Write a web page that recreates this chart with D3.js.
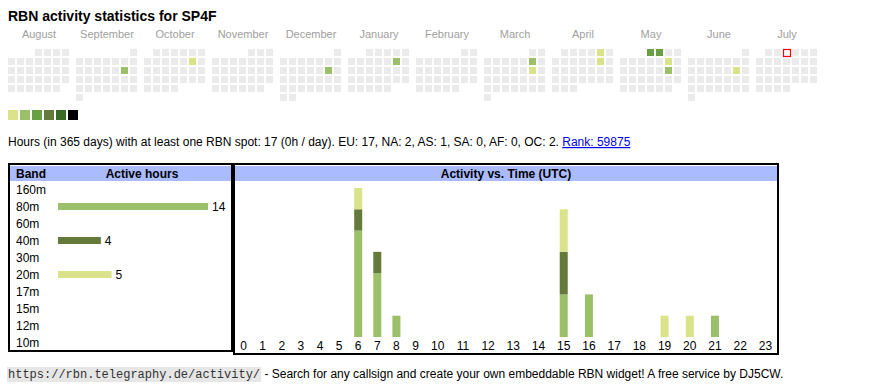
<!DOCTYPE html>
<html><head><meta charset="utf-8">
<script src="https://cdn.jsdelivr.net/npm/d3@7"></script>
<style>
html,body{margin:0;padding:0;background:#fff;}
svg text{font-family:"Liberation Sans",Arial,sans-serif;white-space:pre;}
</style></head>
<body><svg id="c" width="870" height="390"></svg>
<script>
// ---------- data ----------
const title = "RBN activity statistics for SP4F";
const monthNames = ["August","September","October","November","December","January","February","March","April","May","June","July"];
const firstMonth = "2024-08-01";
const today = "2025-07-03";
const activeDays = ["2024-09-14","2024-10-12","2024-12-14","2025-01-11","2025-03-08","2025-03-15","2025-04-05","2025-04-12","2025-05-01","2025-05-02","2025-05-10","2025-05-17","2025-06-14"];
const activeLevels = [2,1,2,2,2,1,1,1,3,3,1,2,1];
const levelColors = ["#dae28a","#9cc06a","#68a043","#647a3b","#3a6b26","#000000"];
const summaryText = "Hours (in 365 days) with at least one RBN spot: 17 (0h / day). EU: 17, NA: 2, AS: 1, SA: 0, AF: 0, OC: 2. ";
const rankText = "Rank: 59875";
const bands = ["160m","80m","60m","40m","30m","20m","17m","15m","12m","10m"];
const bandHours = [0,14,0,4,0,5,0,0,0,0];
const bandColors = ["#c0c0c0","#9cc06a","#c0c0c0","#647a3b","#c0c0c0","#dae28a","#c0c0c0","#c0c0c0","#c0c0c0","#c0c0c0"];
const hourLabels = ["0","1","2","3","4","5","6","7","8","9","10","11","12","13","14","15","16","17","18","19","20","21","22","23"];
const hours80m = [0,0,0,0,0,0,5,3,1,0,0,0,0,0,0,2,2,0,0,0,0,1,0,0];
const hours40m = [0,0,0,0,0,0,1,1,0,0,0,0,0,0,0,2,0,0,0,0,0,0,0,0];
const hours20m = [0,0,0,0,0,0,1,0,0,0,0,0,0,0,0,2,0,0,0,1,1,0,0,0];
const footerUrl = "https://rbn.telegraphy.de/activity/";
const footerText = " - Search for any callsign and create your own embeddable RBN widget! A free service by DJ5CW.";

// ---------- drawing ----------
const svg = d3.select("#c");
const headerBlue = "#aabbff";

svg.append("text").attr("x", 8).attr("y", 21).attr("font-size", 14).attr("font-weight", "bold").attr("fill", "#000").text(title);

// calendar
const parse = d3.timeParse("%Y-%m-%d");
const start = parse(firstMonth);
const monthX = d3.scaleLinear().domain([0, 1]).range([8, 76]);
const colX = d3.scaleLinear().domain([0, 1]).range([0, 9]);
const rowY = d3.scaleLinear().domain([0, 1]).range([49, 58]);
const activeMap = new Map(activeDays.map((d, i) => [d, activeLevels[i]]));
const fmt = d3.timeFormat("%Y-%m-%d");
const cells = [];
monthNames.forEach((name, m) => {
  const ms = d3.timeMonth.offset(start, m);
  const me = d3.timeMonth.offset(ms, 1);
  const off = (ms.getDay() + 6) % 7;
  d3.timeDay.range(ms, me).forEach(d => {
    const dom = d.getDate();
    const col = (d.getDay() + 6) % 7;
    const row = Math.floor((dom - 1 + off) / 7);
    cells.push({m, col, row, key: fmt(d)});
  });
});
const cal = svg.append("g");
cal.selectAll("text.month").data(monthNames).join("text")
  .attr("x", (d, i) => monthX(i) + 31).attr("y", 38).attr("text-anchor", "middle")
  .attr("font-size", 11).attr("fill", "#a0a0a0").text(d => d);
cal.selectAll("rect.day").data(cells).join("rect")
  .attr("x", d => monthX(d.m) + colX(d.col)).attr("y", d => rowY(d.row))
  .attr("width", 7).attr("height", 7)
  .attr("fill", d => activeMap.has(d.key) ? levelColors[activeMap.get(d.key) - 1] : "#ebebeb");
const td = cells.find(c => c.key === today);
cal.append("rect").attr("x", monthX(td.m) + colX(td.col) + 0.5).attr("y", rowY(td.row) + 0.5)
  .attr("width", 7).attr("height", 7).attr("fill", "#fff").attr("stroke", "#ff0000").attr("stroke-width", 1.2);

// legend
const legX = d3.scaleLinear().domain([0, 1]).range([8, 20]);
svg.selectAll("rect.leg").data(levelColors).join("rect")
  .attr("x", (d, i) => legX(i)).attr("y", 110).attr("width", 10).attr("height", 10).attr("fill", d => d);

// summary line
const sumT = svg.append("text").attr("x", 8).attr("y", 146).attr("font-size", 12).attr("fill", "#000");
sumT.append("tspan").text(summaryText);
sumT.append("tspan").attr("fill", "#0000ee").attr("text-decoration", "underline").text(rankText);

// left table
const L = {x0: 8, x1: 233, y0: 163, y1: 352};
svg.append("rect").attr("x", L.x0 + 1).attr("y", L.y0 + 1).attr("width", L.x1 - L.x0 - 2).attr("height", L.y1 - L.y0 - 2)
  .attr("fill", "#fff").attr("stroke", "#000").attr("stroke-width", 2);
svg.append("rect").attr("x", L.x0 + 2).attr("y", 166).attr("width", L.x1 - L.x0 - 4).attr("height", 15).attr("fill", headerBlue);
svg.append("text").attr("x", 16).attr("y", 178).attr("font-size", 12).attr("font-weight", "bold").text("Band");
svg.append("text").attr("x", 142).attr("y", 178).attr("font-size", 12).attr("font-weight", "bold").attr("text-anchor", "middle").text("Active hours");
const bandY = d3.scaleBand().domain(bands).range([181, 351]);
const bandW = d3.scaleLinear().domain([0, d3.max(bandHours)]).range([0, 150]);
const lt = svg.append("g");
lt.selectAll("text.band").data(bands).join("text")
  .attr("x", 16).attr("y", d => bandY(d) + bandY.bandwidth() / 2 + 4.5).attr("font-size", 12).text(d => d);
const bandData = bands.map((b, i) => ({b, v: bandHours[i], c: bandColors[i]})).filter(d => d.v > 0);
lt.selectAll("rect.bbar").data(bandData).join("rect")
  .attr("x", 58).attr("y", d => bandY(d.b) + bandY.bandwidth() / 2 - 3.5)
  .attr("width", d => bandW(d.v)).attr("height", 7).attr("fill", d => d.c);
lt.selectAll("text.bval").data(bandData).join("text")
  .attr("x", d => 58 + bandW(d.v) + 4).attr("y", d => bandY(d.b) + bandY.bandwidth() / 2 + 4.5)
  .attr("font-size", 12).text(d => d.v);

// right chart
const R = {x0: 233, x1: 779, y0: 163, y1: 355};
svg.append("rect").attr("x", R.x0 + 1).attr("y", R.y0 + 1).attr("width", R.x1 - R.x0 - 2).attr("height", R.y1 - R.y0 - 2)
  .attr("fill", "#fff").attr("stroke", "#000").attr("stroke-width", 2);
svg.append("rect").attr("x", R.x0 + 2).attr("y", 166).attr("width", R.x1 - R.x0 - 4).attr("height", 15).attr("fill", headerBlue);
svg.append("text").attr("x", (R.x0 + R.x1) / 2).attr("y", 178).attr("font-size", 12).attr("font-weight", "bold")
  .attr("text-anchor", "middle").text("Activity vs. Time (UTC)");

// column widths like an auto table: wider columns for two-digit labels
const colWeights = hourLabels.map(h => h.length === 1 ? 19.1 : 25.2);
const totalW = d3.sum(colWeights);
const innerL = R.x0 + 1, innerR = R.x1 - 1;
const cumX = d3.scaleLinear().domain([0, totalW]).range([innerL, innerR]);
let acc = 0;
const colCenter = colWeights.map(w => { const c = acc + w / 2; acc += w; return cumX(c); });
const yS = d3.scaleLinear().domain([0, 7]).range([337, 188]);
const series = [
  {vals: hours80m, color: "#9cc06a"},
  {vals: hours40m, color: "#647a3b"},
  {vals: hours20m, color: "#dae28a"}
];
const stackData = hourLabels.map((h, i) => {
  const o = {i};
  series.forEach((s, k) => o["s" + k] = s.vals[i]);
  return o;
});
const stacked = d3.stack().keys(series.map((s, k) => "s" + k))(stackData);
const rg = svg.append("g");
stacked.forEach((layer, k) => {
  rg.selectAll("rect.l" + k).data(layer.filter(d => d[1] > d[0])).join("rect")
    .attr("x", d => colCenter[d.data.i] - 4).attr("width", 8)
    .attr("y", d => yS(d[1])).attr("height", d => yS(d[0]) - yS(d[1]))
    .attr("fill", series[k].color);
});
rg.selectAll("text.hl").data(hourLabels).join("text")
  .attr("x", (d, i) => colCenter[i]).attr("y", 350).attr("text-anchor", "middle").attr("font-size", 12).text(d => d);

// footer
const fUrl = svg.append("text").attr("x", 8).attr("y", 378).attr("font-size", 12)
  .style("font-family", "'Liberation Mono','DejaVu Sans Mono',monospace").attr("fill", "#333").text(footerUrl);
const bb = fUrl.node().getBBox();
svg.insert("rect", "text").attr("x", bb.x - 1).attr("y", 367).attr("width", bb.width + 2).attr("height", 15).attr("fill", "#e6e6e6");
fUrl.raise();
svg.append("text").attr("x", bb.x + bb.width + 1).attr("y", 378).attr("font-size", 12).attr("fill", "#000").text(footerText);
</script></body></html>
